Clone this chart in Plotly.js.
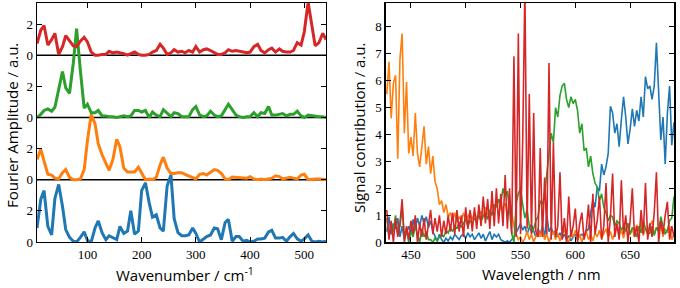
<!DOCTYPE html>
<html>
<head>
<meta charset="utf-8">
<script src="https://cdn.plot.ly/plotly-3.0.1.min.js"></script>
<style>html,body{margin:0;padding:0;background:#fff;}#chart{width:680px;height:288px;}</style>
</head>
<body>
<div id="chart"></div>
<script>
// ---------- Left panel: Fourier amplitude spectra ----------
const wavenumber = [7,14,20,27,34,40,47,54,60,67,74,80,87,94,100,107,114,120,127,134,140,147,154,160,167,174,180,187,194,200,207,214,220,227,234,240,247,254,260,267,274,280,287,294,300,307,314,320,327,334,340,347,354,360,367,374,380,387,394,400,407,414,420,427,434,440,447,454,460,467,474,480,487,494,500,507,514,520,527,534,540];

const ampBlue = [0.9,2.75,3.3,1.0,0.45,2.8,3.7,2.3,0.8,0.3,0.05,0.0,0.3,0.65,0.1,0.0,0.9,1.35,0.6,0.15,0.4,0.25,0.15,1.0,0.55,0.7,2.0,0.5,0.7,3.3,3.8,2.5,1.6,1.75,0.9,0.7,3.6,4.3,1.5,0.6,0.4,0.4,0.45,0.9,0.55,0.0,0.2,0.35,0.45,0.9,0.85,0.15,1.25,1.45,0.05,0.35,0.35,0.05,0.1,0.0,0.05,0.2,0.2,0.25,0.65,0.75,0.25,0.25,0.3,0.05,0.35,0.55,0.2,0.05,0.2,0.45,0.05,0.0,0.05,0.0,0.05];

const ampOrange = [1.3,1.95,1.2,0.35,0.3,0.1,0.05,0.45,0.65,0.15,0.0,0.0,0.05,0.65,2.5,4.2,3.6,2.3,1.6,1.0,0.6,1.3,2.6,2.1,0.75,0.5,0.5,0.5,0.8,0.45,0.0,0.05,0.0,0.15,0.95,1.45,0.75,0.4,0.4,0.45,0.45,0.35,0.25,0.15,0.05,0.35,0.4,0.3,0.5,0.65,0.6,0.4,0.05,0.0,0.17,0.15,0.1,0.1,0.1,0.2,0.05,0.0,0.05,0.0,0.05,0.1,0.25,0.2,0.05,0.1,0.15,0.1,0.05,0.3,0.35,0.0,0.05,0.05,0.05,0.03,0.02];

const ampGreen = [0.0,0.2,0.45,0.55,0.4,0.65,1.8,2.95,1.9,1.55,3.5,5.7,3.0,0.6,0.85,0.3,0.3,0.45,0.1,0.1,0.05,0.05,0.0,0.05,0.1,0.05,0.1,0.45,0.45,0.35,0.45,0.0,0.35,0.15,0.05,0.5,0.25,0.05,0.3,0.25,0.05,0.05,0.05,0.5,0.7,0.15,0.05,0.1,0.4,0.15,0.05,0.1,0.5,0.85,0.5,0.15,0.05,0.0,0.05,0.05,0.3,0.05,0.3,0.25,0.7,0.15,0.15,0.2,0.25,0.1,0.2,0.2,0.4,0.1,0.0,0.15,0.1,0.1,0.05,0.05,0.0];

const ampRed = [0.75,1.6,1.9,0.65,1.0,1.4,0.05,0.55,1.25,0.9,0.6,0.55,0.9,1.15,0.85,0.2,0.0,0.0,0.05,0.05,0.25,0.15,0.2,0.15,0.1,0.0,0.1,0.2,0.05,0.0,0.0,0.05,0.2,0.3,0.7,0.45,0.05,0.15,0.35,0.2,0.25,0.15,0.3,0.2,0.55,0.2,0.35,0.4,0.3,0.15,0.05,0.05,0.15,0.35,0.25,0.3,0.25,0.2,0.15,0.2,0.55,0.7,0.3,0.15,0.35,0.45,0.2,0.4,0.25,0.2,0.2,0.3,0.8,0.65,1.5,3.4,2.0,0.6,0.8,1.4,1.0];

const stackOffsets = [0, 4, 8, 12];
const leftTickVals = [0,2,4,6,8,10,12,14];
const leftTickText = ['0','2','0','2','0','2','0','2'];

// ---------- Right panel: signal contributions ----------
const wavelength = [428,430,432,434,436,438,440,442,444,446,
  448,450,452,454,456,458,460,462,464,466,
  468,470,472,474,476,478,480,482,484,486,
  488,490,492,494,496,498,500,502,504,506,
  508,510,512,514,516,518,520,522,524,526,
  528,530,532,534,536,538,540,542,544,546,
  548,550,552,554,556,558,560,562,564,566,
  568,570,572,574,576,578,580,582,584,586,
  588,590,592,594,596,598,600,602,604,606,
  608,610,612,614,616,618,620,622,624,626,
  628,630,632,634,636,638,640,642,644,646,
  648,650,652,654,656,658,660,662,664,666,
  668,670,672,674,676,678,680,682,684,686,
  688,690];

const sigBlue = [0.4,0.95,0.3,0.7,0.5,0.9,0.2,0.6,0.1,0.4,
  0.6,0.3,0.85,0.5,0.9,0.6,1.0,0.7,0.95,0.55,
  0.8,0.4,0.2,0.05,0.3,0.1,0.0,0.15,0.05,0.2,
  0.1,0.3,0.2,0.1,0.25,0.3,0.15,0.35,0.2,0.3,
  0.1,0.25,0.35,0.15,0.3,0.05,0.25,0.4,0.1,0.3,
  0.2,0.3,0.1,0.05,0.0,0.05,0.0,0.1,0.2,0.35,
  0.5,0.7,0.45,0.6,0.3,0.55,0.65,0.4,0.2,0.5,
  0.3,0.6,0.2,1.0,0.4,0.55,0.3,0.45,0.2,0.35,
  0.15,0.3,0.1,0.25,0.05,0.2,0.3,0.1,0.25,0.3,
  0.2,0.4,0.5,1.1,1.55,1.3,2.05,1.9,2.9,2.5,
  2.8,3.3,5.05,4.8,4.05,4.4,3.55,4.55,5.4,4.65,
  3.65,4.2,4.95,4.3,4.9,4.5,5.4,4.65,6.15,5.7,
  5.8,5.3,5.8,7.4,5.55,3.8,4.65,2.9,4.8,5.8,
  3.6,4.45];

const sigOrange = [5.5,6.7,4.6,5.9,6.2,3.1,6.8,7.75,4.05,5.95,
  3.3,3.9,3.2,4.8,3.3,2.8,3.55,4.3,2.9,3.55,
  2.55,3.2,2.25,2.0,1.4,1.55,1.1,1.4,0.95,1.1,
  0.8,1.1,0.75,0.95,0.8,1.1,0.8,0.95,1.1,0.85,
  1.1,0.9,0.95,1.15,0.95,1.3,1.0,1.1,1.45,1.2,
  1.45,1.55,1.2,1.3,1.45,1.0,1.2,1.1,0.6,0.3,
  0.1,0.2,0.0,0.15,0.4,0.1,0.3,0.0,0.2,0.45,
  0.2,0.5,0.1,0.3,0.0,0.25,0.4,0.1,0.35,0.05,
  0.3,0.5,0.15,0.0,0.35,0.2,0.45,0.1,0.3,0.0,
  0.25,0.4,0.1,0.3,0.05,0.35,0.2,0.45,0.15,0.3,
  0.5,0.2,0.4,0.1,0.35,0.6,0.25,0.45,0.15,0.55,
  0.7,0.3,0.5,0.2,0.65,0.4,0.75,0.25,0.55,0.35,
  0.6,0.8,0.3,0.55,0.45,0.7,0.2,0.5,0.35,0.6,
  0.1,0.3];

const sigGreen = [0.9,0.2,0.7,0.4,1.0,0.3,0.6,1.3,0.2,0.5,
  0.0,0.4,0.2,0.6,0.3,0.0,0.5,0.2,0.4,0.1,
  0.1,0.0,0.15,0.05,0.2,0.3,0.2,0.45,0.35,0.55,
  0.4,0.6,0.5,0.75,0.55,0.7,0.85,0.6,0.8,0.7,
  0.9,0.75,1.0,0.8,0.95,1.1,0.85,1.2,1.0,1.4,
  1.3,1.6,1.45,2.0,1.7,1.9,1.2,0.3,0.0,1.45,
  1.8,2.0,1.4,0.9,1.2,0.6,0.35,0.5,0.8,0.95,
  1.55,1.4,1.8,2.6,3.2,4.05,3.7,5.0,4.65,5.45,
  5.8,5.9,5.3,5.0,5.4,5.15,5.3,4.9,4.05,4.4,
  3.4,3.5,2.8,3.2,2.55,2.2,2.05,1.55,1.8,1.3,
  1.1,0.8,1.0,0.95,0.6,0.8,0.7,0.45,0.6,0.4,
  0.7,0.3,0.55,0.45,0.2,0.6,0.35,0.8,0.5,0.3,
  0.35,0.6,0.25,0.55,0.4,0.95,0.6,0.3,0.45,0.8,
  0.9,1.7];

const sigRed = [1.2,0.1,0.8,0.0,0.9,0.2,0.7,1.6,0.0,0.6,
  0.1,0.8,0.3,1.0,0.0,0.7,0.2,0.9,0.1,0.6,
  1.2,0.3,0.9,0.4,1.0,0.2,0.8,0.3,1.0,0.4,
  1.1,0.3,1.2,0.4,1.0,0.2,1.3,0.5,1.2,0.4,
  1.3,0.5,1.4,0.6,1.7,0.7,1.6,0.5,1.9,0.6,
  2.0,0.7,1.8,0.6,2.5,0.5,2.0,0.3,6.9,0.2,
  7.75,0.3,3.8,9.5,0.5,5.5,0.3,4.8,0.4,0.2,
  3.5,0.2,2.4,0.3,6.65,0.1,3.7,0.2,0.6,2.6,
  0.1,0.9,0.0,1.7,0.2,0.6,1.25,0.0,0.7,1.1,
  0.1,0.5,1.4,0.0,1.8,0.3,0.8,1.7,0.1,0.6,
  2.2,0.0,0.9,2.55,0.2,0.7,0.1,2.3,0.3,1.0,
  0.0,0.8,2.0,0.2,0.6,0.0,1.2,0.3,2.2,0.1,
  0.7,0.2,1.1,2.6,0.0,0.8,0.3,1.0,1.5,0.1,
  0.6,0.2];

const rightTickVals = [0,1,2,3,4,5,6,7,8];

// ---------- styles ----------
const C = {blue:'#1f77b4', orange:'#ff7f0e', green:'#2ca02c', red:'#d62728'};
const W = 680, H = 288;
const px = v => v / W;
const py = v => 1 - v / H;

const leftSeries = [
  {y: ampBlue, c: C.blue},
  {y: ampOrange, c: C.orange},
  {y: ampGreen, c: C.green},
  {y: ampRed, c: C.red}
];
const traces = [];
leftSeries.forEach((s, i) => {
  traces.push({
    type: 'scatter', mode: 'lines', x: wavenumber,
    y: s.y.map(v => v + stackOffsets[i]),
    line: {color: s.c, width: 3}, xaxis: 'x', yaxis: 'y',
    hoverinfo: 'skip', showlegend: false
  });
});
const rightSeries = [
  {y: sigBlue, c: C.blue},
  {y: sigOrange, c: C.orange},
  {y: sigGreen, c: C.green},
  {y: sigRed, c: C.red}
];
rightSeries.forEach(s => {
  traces.push({
    type: 'scatter', mode: 'lines', x: wavelength, y: s.y,
    line: {color: s.c, width: 1.6}, xaxis: 'x2', yaxis: 'y2',
    hoverinfo: 'skip', showlegend: false
  });
});

const tickFont = {family: 'Liberation Serif, DejaVu Serif, serif', size: 13, color: '#000'};
const titleFont = {family: 'Open Sans, Noto Sans, sans-serif', size: 15, color: '#000'};
const axBase = {
  showline: true, linecolor: '#000', linewidth: 1.3, mirror: 'ticks',
  ticks: 'inside', ticklen: 5, tickwidth: 1, tickcolor: '#000',
  showgrid: false, zeroline: false, tickfont: tickFont
};

const shapes = [4, 8, 12].map(v => ({
  type: 'line', xref: 'x domain', x0: 0, x1: 1, yref: 'y', y0: v, y1: v,
  line: {color: '#000', width: 1.5}, layer: 'below'
}));

const layout = {
  width: W, height: H,
  margin: {l: 0, r: 0, t: 0, b: 0},
  paper_bgcolor: '#fff', plot_bgcolor: '#fff',
  showlegend: false,
  xaxis: Object.assign({}, axBase, {
    domain: [px(37), px(326)], range: [7, 540],
    tickvals: [100, 200, 300, 400, 500], anchor: 'y'
  }),
  yaxis: Object.assign({}, axBase, {
    domain: [py(242), py(3)], range: [0, 15.35],
    tickvals: leftTickVals, ticktext: leftTickText, anchor: 'x'
  }),
  xaxis2: Object.assign({}, axBase, {
    domain: [px(385.7), px(674.3)], range: [427, 690.3],
    tickvals: [450, 500, 550, 600, 650], anchor: 'y2'
  }),
  yaxis2: Object.assign({}, axBase, {
    domain: [py(242.3), py(3)], range: [0, 8.88],
    tickvals: rightTickVals, anchor: 'x2'
  }),
  shapes: shapes,
  annotations: [
    {text: 'Fourier Amplitude / a.u.', xref: 'paper', yref: 'paper',
     x: px(12), y: py(126), textangle: -90, showarrow: false,
     xanchor: 'center', yanchor: 'middle', font: titleFont},
    {text: 'Wavenumber / cm<sup>-1</sup>', xref: 'paper', yref: 'paper',
     x: px(185), y: py(274), showarrow: false,
     xanchor: 'center', yanchor: 'middle', font: titleFont},
    {text: 'Signal contribution / a.u.', xref: 'paper', yref: 'paper',
     x: px(359), y: py(128), textangle: -90, showarrow: false,
     xanchor: 'center', yanchor: 'middle', font: titleFont},
    {text: 'Wavelength / nm', xref: 'paper', yref: 'paper',
     x: px(541), y: py(274), showarrow: false,
     xanchor: 'center', yanchor: 'middle', font: titleFont}
  ]
};

Plotly.newPlot('chart', traces, layout, {staticPlot: true, displayModeBar: false});
</script>
</body>
</html>
